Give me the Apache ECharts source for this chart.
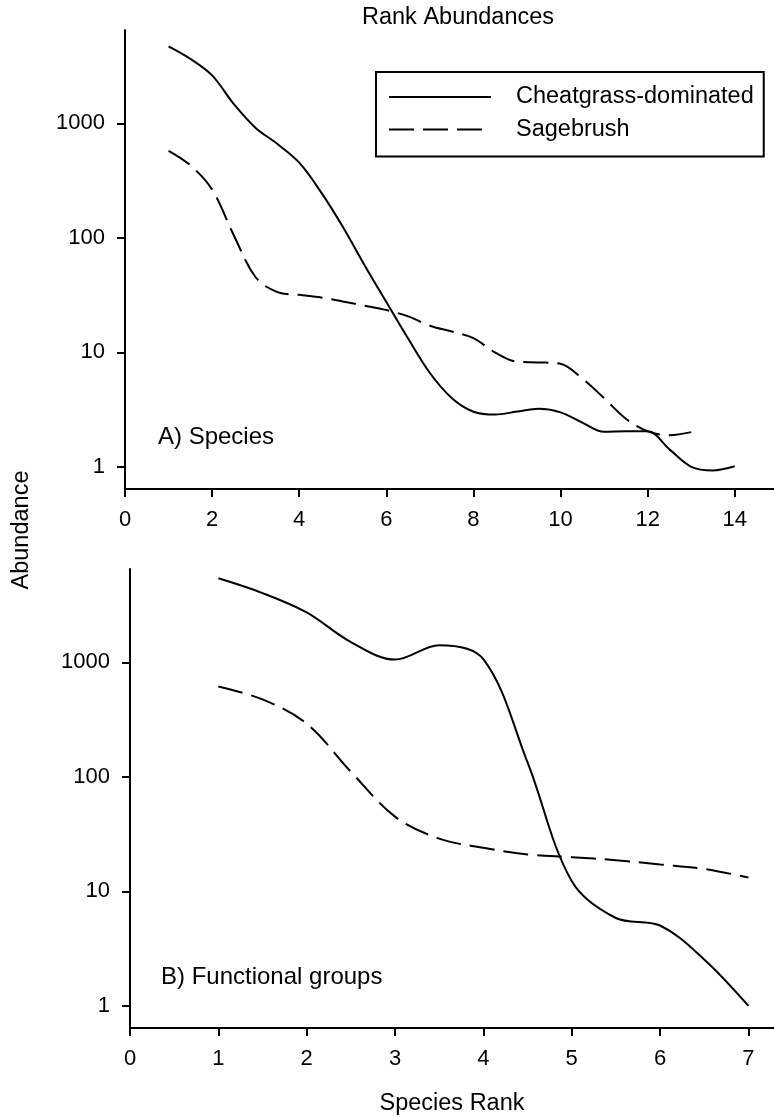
<!DOCTYPE html>
<html><head><meta charset="utf-8">
<script src="https://cdn.jsdelivr.net/npm/echarts@6/dist/echarts.min.js"></script>
<style>html,body{margin:0;padding:0;background:#fff}#c{width:774px;height:1118px}</style>
</head><body><div id="c"></div>
<script>
// Panel A (species) — abundance
const ranksA = [1,1.5,2,2.5,3,3.5,4,4.5,5,5.5,6,6.5,7,7.5,8,8.5,9,9.5,10,10.5,11,11.5,12,12.5,13,13.5,14];
const cheatA = [4720,3670,2630,1475,914,661,454,251,125,57.7,27.5,13.2,6.6,4.0,3.03,2.86,3.04,3.21,2.99,2.43,2.02,2.04,2.04,1.42,1.0,0.93,1.01];
const sageRanksA = [1,1.5,2,2.5,3,3.5,4,4.5,5,5.5,6,6.5,7,7.5,8,8.5,9,9.5,10,10.5,11,11.5,12,12.5,13];
const sageA = [577,431,264,105,45.3,33.6,31.8,30.2,27.8,25.6,23.4,20.6,17.1,15.2,13.3,9.95,8.28,8.17,7.94,5.89,3.98,2.63,2.04,1.89,2.01];
// Panel B (functional groups)
const ranksB = [1,1.5,2,2.5,3,3.5,4,4.5,5,5.5,6,6.5,7];
const cheatB = [5430,4036,2735,1507,1059,1416,1069,134,12.3,5.85,5.03,2.54,1.0];
const sageB = [617,475,292,111,45,28.9,24.0,21.0,19.9,18.7,17.2,15.7,13.2];
// Tick labels
const xTicksA = [0,2,4,6,8,10,12,14];
const xTicksB = [0,1,2,3,4,5,6,7];
const yTicks = [1,10,100,1000];
const seriesNames = ['Cheatgrass-dominated','Sagebrush'];

const F = '"Liberation Sans", Arial, sans-serif';
const pair = (xs, ys) => ys.map((v, i) => [xs[i], v]);
const axLine = {show:true, onZero:false, lineStyle:{color:'#000', width:2}};
const tick = vals => ({show:true, inside:false, length:8, lineStyle:{color:'#000', width:2}, customValues: vals});
const lbl = vals => ({customValues: vals, margin:20, color:'#000', fontSize:22, fontFamily:F, formatter: v => String(v)});

function xAxis(gi, max, vals, extra) {
  return Object.assign({type:'value', gridIndex:gi, min:0, max:max, axisLine:axLine, axisTick:tick(vals), axisLabel:lbl(vals), splitLine:{show:false}}, extra || {});
}
function yAxis(gi) {
  return {type:'log', logBase:10, gridIndex:gi, min:0.64, max:6550, axisLine:axLine, axisTick:tick(yTicks), axisLabel:lbl(yTicks), splitLine:{show:false}};
}
function line(name, gi, data, dashed) {
  return {type:'line', name:name, xAxisIndex:gi, yAxisIndex:gi, data:data, smooth:0.35, symbol:'none', showSymbol:false,
    lineStyle:{color:'#000', width:2, type: dashed ? [25,9] : 'solid'}, itemStyle:{color:'#000'}};
}

const chart = echarts.init(document.getElementById('c'));
chart.setOption({
  animation:false,
  backgroundColor:'#fff',
  title:{text:'Rank Abundances', left:362, top:6, padding:0, textStyle:{fontSize:23.5, fontWeight:'normal', fontFamily:F, color:'#000'}},
  legend:{data:seriesNames, orient:'vertical', left:376, top:72, padding:[13,10,15,12], itemWidth:102, itemHeight:14, itemGap:8.5,
    borderColor:'#000', borderWidth:2, itemStyle:{opacity:0},
    textStyle:{fontSize:23.5, fontFamily:F, color:'#000', padding:[0,0,0,20]}},
  grid:[
    {left:125, top:30, width:649, height:459, containLabel:false, outerBoundsMode:'none'},
    {left:130, top:569, width:644, height:459, containLabel:false, outerBoundsMode:'none'}
  ],
  xAxis:[
    xAxis(0, 14.9, xTicksA),
    xAxis(1, 7.29, xTicksB, {name:'Species Rank', nameLocation:'middle', nameGap:64, nameTextStyle:{fontSize:23.5, fontFamily:F, color:'#000'}})
  ],
  yAxis:[yAxis(0), yAxis(1)],
  graphic:[
    {type:'text', x:158, y:437, style:{text:'A) Species', font:'24px ' + F, fill:'#000', textVerticalAlign:'middle'}},
    {type:'text', x:161, y:977, style:{text:'B) Functional groups', font:'24px ' + F, fill:'#000', textVerticalAlign:'middle'}},
    {type:'text', x:22, y:530, rotation:Math.PI/2, style:{text:'Abundance', font:'23.5px ' + F, fill:'#000', textAlign:'center', textVerticalAlign:'middle'}}
  ],
  series:[
    line(seriesNames[0], 0, pair(ranksA, cheatA), false),
    line(seriesNames[1], 0, pair(sageRanksA, sageA), true),
    line(seriesNames[0], 1, pair(ranksB, cheatB), false),
    line(seriesNames[1], 1, pair(ranksB, sageB), true)
  ]
});
</script></body></html>
